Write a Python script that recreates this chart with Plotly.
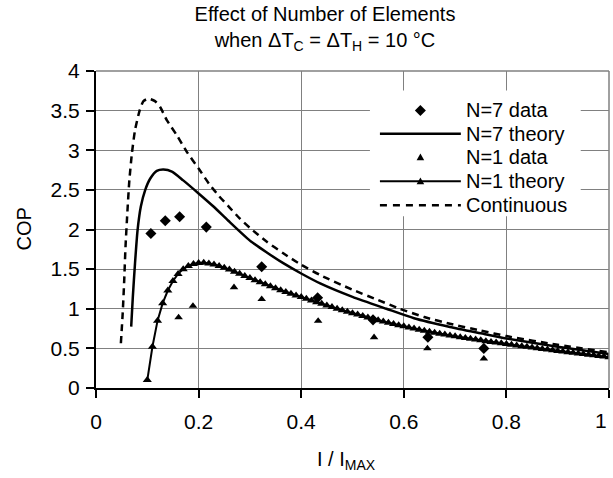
import plotly.graph_objects as go

# ---------------- data ----------------
n7_data_x = [0.107, 0.135, 0.163, 0.215, 0.323, 0.432, 0.540, 0.647, 0.756]
n7_data_y = [1.95, 2.11, 2.16, 2.03, 1.53, 1.14, 0.86, 0.64, 0.50]

n1_data_x = [0.161, 0.189, 0.269, 0.323, 0.433, 0.542, 0.646, 0.756]
n1_data_y = [0.89, 1.035, 1.27, 1.12, 0.846, 0.64, 0.50, 0.37]

n7_theory_x = [0.0686, 0.0718, 0.076, 0.081, 0.0874, 0.096, 0.1055, 0.1185, 0.1315,
               0.148, 0.170, 0.200, 0.229, 0.258, 0.300, 0.333, 0.365, 0.400, 0.437,
               0.500, 0.566, 0.620, 0.690, 0.750, 0.800, 0.900, 1.000]
n7_theory_y = [0.775, 1.15, 1.57, 1.99, 2.29, 2.50, 2.64, 2.74, 2.757,
               2.73, 2.62, 2.455, 2.29, 2.11, 1.86, 1.71, 1.575, 1.445, 1.32,
               1.15, 1.00, 0.88, 0.77, 0.69, 0.625, 0.52, 0.43]

cont_x = [0.0485, 0.052, 0.055, 0.0575, 0.061, 0.065, 0.070, 0.076, 0.085, 0.0925,
          0.102, 0.115, 0.125, 0.138, 0.1575, 0.177, 0.200, 0.220, 0.240, 0.260,
          0.280, 0.300, 0.333, 0.365, 0.400, 0.437, 0.500, 0.550, 0.592, 0.640,
          0.690, 0.750, 0.800, 0.900, 1.000]
cont_y = [0.565, 0.94, 1.36, 1.78, 2.20, 2.62, 2.96, 3.25, 3.50, 3.62,
          3.65, 3.62, 3.545, 3.38, 3.19, 2.98, 2.77, 2.58, 2.42, 2.28,
          2.14, 2.02, 1.845, 1.70, 1.555, 1.425, 1.24, 1.11, 1.00, 0.895,
          0.81, 0.725, 0.655, 0.545, 0.45]

n1_theory_x = [round(0.10 + 0.01 * i, 2) for i in range(91)]
n1_theory_y = [0.10, 0.52, 0.85, 1.07, 1.23, 1.35, 1.44, 1.50, 1.54, 1.565,
               1.577, 1.580, 1.572, 1.558, 1.540, 1.518, 1.494, 1.468, 1.441, 1.414,
               1.387, 1.360, 1.334, 1.308, 1.283, 1.258, 1.234, 1.211, 1.189, 1.168,
               1.148, 1.126, 1.104, 1.083, 1.062, 1.041, 1.021, 1.001, 0.982, 0.963,
               0.944, 0.926, 0.908, 0.890, 0.873, 0.856, 0.840, 0.824, 0.808, 0.793,
               0.778, 0.764, 0.750, 0.736, 0.723, 0.710, 0.698, 0.686, 0.674, 0.663,
               0.652, 0.641, 0.631, 0.621, 0.611, 0.601, 0.591, 0.582, 0.573, 0.564,
               0.555, 0.546, 0.537, 0.528, 0.519, 0.510, 0.502, 0.493, 0.485, 0.476,
               0.468, 0.460, 0.452, 0.444, 0.436, 0.428, 0.420, 0.412, 0.404, 0.396,
               0.388]

x_ticks = [0, 0.2, 0.4, 0.6, 0.8, 1]
x_tick_labels = ["0", "0.2", "0.4", "0.6", "0.8", "1"]
y_ticks = [0, 0.5, 1, 1.5, 2, 2.5, 3, 3.5, 4]
y_tick_labels = ["0", "0.5", "1", "1.5", "2", "2.5", "3", "3.5", "4"]

legend_labels = ["N=7 data", "N=7 theory", "N=1 data", "N=1 theory", "Continuous"]

# ---------------- layout geometry ----------------
W, H = 613, 478
L, R, T, B = 95.8, 609.3, 70.5, 388.2  # plot area in pixels
FONT = "Liberation Sans, Arial, sans-serif"


def pxx(xp):
    return (xp - L) / (R - L)


def pxy(yp):
    return (B - yp) / (B - T)


fig = go.Figure()

fig.add_trace(go.Scatter(x=cont_x, y=cont_y, mode="lines", name=legend_labels[4],
                         line=dict(color="black", width=2.5, dash="7px,5px", shape="spline", smoothing=0.6)))
fig.add_trace(go.Scatter(x=n7_theory_x, y=n7_theory_y, mode="lines", name=legend_labels[1],
                         line=dict(color="black", width=2.5, shape="spline", smoothing=0.6)))
fig.add_trace(go.Scatter(x=n1_theory_x, y=n1_theory_y, mode="lines+markers", name=legend_labels[3],
                         line=dict(color="black", width=2),
                         marker=dict(symbol="triangle-up", size=8, color="black")))
fig.add_trace(go.Scatter(x=n7_data_x, y=n7_data_y, mode="markers", name=legend_labels[0],
                         marker=dict(symbol="diamond", size=8.5, color="black")))
fig.add_trace(go.Scatter(x=n1_data_x, y=n1_data_y, mode="markers", name=legend_labels[2],
                         marker=dict(symbol="triangle-up", size=7.5, color="black")))

# ---------------- frame lines (top / right, gray like the grid) ----------------
shapes = [
    dict(type="line", xref="paper", yref="paper", layer="above", x0=0, x1=1, y0=1, y1=1,
         line=dict(color="#808080", width=1.5)),
    dict(type="line", xref="paper", yref="paper", layer="above", x0=1, x1=1, y0=0, y1=1,
         line=dict(color="#808080", width=1.5)),
]

# ---------------- manual legend ----------------
shapes.append(dict(type="rect", xref="paper", yref="paper", layer="above",
                   x0=pxx(370), x1=pxx(581), y0=pxy(216), y1=pxy(90),
                   fillcolor="white", line=dict(width=0)))
rows = [110, 133.5, 157, 181, 205]
sx0, sx1, scx = 380, 461, 420.5


def diamond_path(cx, cy, r):
    return (f"M {pxx(cx - r)} {pxy(cy)} L {pxx(cx)} {pxy(cy - r)} "
            f"L {pxx(cx + r)} {pxy(cy)} L {pxx(cx)} {pxy(cy + r)} Z")


def tri_path(cx, cy, r):
    return (f"M {pxx(cx - r)} {pxy(cy + r * 0.8)} L {pxx(cx + r)} {pxy(cy + r * 0.8)} "
            f"L {pxx(cx)} {pxy(cy - r)} Z")


shapes.append(dict(type="path", xref="paper", yref="paper", layer="above",
                   path=diamond_path(scx, rows[0], 5.5), fillcolor="black", line=dict(width=0)))
shapes.append(dict(type="line", xref="paper", yref="paper", layer="above",
                   x0=pxx(sx0), x1=pxx(sx1), y0=pxy(rows[1]), y1=pxy(rows[1]),
                   line=dict(color="black", width=2.5)))
shapes.append(dict(type="path", xref="paper", yref="paper", layer="above",
                   path=tri_path(scx, rows[2], 3.8), fillcolor="black", line=dict(width=0)))
shapes.append(dict(type="line", xref="paper", yref="paper", layer="above",
                   x0=pxx(sx0), x1=pxx(sx1), y0=pxy(rows[3]), y1=pxy(rows[3]),
                   line=dict(color="black", width=2)))
shapes.append(dict(type="path", xref="paper", yref="paper", layer="above",
                   path=tri_path(scx, rows[3], 3.8), fillcolor="black", line=dict(width=0)))
shapes.append(dict(type="line", xref="paper", yref="paper", layer="above",
                   x0=pxx(sx0), x1=pxx(sx1), y0=pxy(rows[4]), y1=pxy(rows[4]),
                   line=dict(color="black", width=2.5, dash="7px,6px")))

annotations = []
for lab, ry in zip(legend_labels, rows):
    annotations.append(dict(text=lab, xref="paper", yref="paper", x=pxx(464), y=pxy(ry),
                            xanchor="left", yanchor="middle", showarrow=False,
                            font=dict(family=FONT, size=20, color="black")))

# last x tick label: right-aligned at the axis end so it stays inside the picture
annotations.append(dict(text=x_tick_labels[-1], xref="x", yref="paper", x=x_ticks[-1], y=pxy(421),
                        xanchor="right", yanchor="middle", showarrow=False,
                        font=dict(family=FONT, size=21, color="black")))

# axis titles
annotations.append(dict(text="COP", xref="paper", yref="paper", x=pxx(24), y=pxy(229),
                        xanchor="center", yanchor="middle", textangle=-90, showarrow=False,
                        font=dict(family=FONT, size=20, color="black")))
annotations.append(dict(text="I / I<sub>MAX</sub>", xref="paper", yref="paper", x=pxx(347), y=pxy(461),
                        xanchor="center", yanchor="middle", showarrow=False,
                        font=dict(family=FONT, size=20, color="black")))

fig.update_layout(
    width=W, height=H,
    margin=dict(l=L, r=W - R, t=T, b=H - B, pad=0, autoexpand=False),
    paper_bgcolor="white", plot_bgcolor="white",
    showlegend=False,
    font=dict(family=FONT, size=20, color="black"),
    title=dict(text="Effect of Number of Elements<br>when ΔT<sub>C</sub> = ΔT<sub>H</sub> = 10 °C",
               xref="paper", x=pxx(325), xanchor="center",
               yref="container", y=1 - 21 / H, yanchor="middle",
               font=dict(family=FONT, size=20, color="black")),
    shapes=shapes,
    annotations=annotations,
)
fig.update_xaxes(range=[0, 1], tickvals=x_ticks, ticktext=x_tick_labels[:-1] + [""],
                 automargin=False,
                 showgrid=True, gridcolor="#808080", gridwidth=1,
                 zeroline=False, showline=True, linecolor="black", linewidth=2,
                 ticks="outside", ticklen=8, tickwidth=1.5, tickcolor="black",
                 ticklabelstandoff=6, tickfont=dict(family=FONT, size=21, color="black"))
fig.update_yaxes(range=[0, 4], tickvals=y_ticks, ticktext=y_tick_labels,
                 automargin=False,
                 showgrid=True, gridcolor="#808080", gridwidth=1,
                 zeroline=False, showline=True, linecolor="black", linewidth=2,
                 ticks="outside", ticklen=8, tickwidth=1.5, tickcolor="black",
                 ticklabelstandoff=2, tickfont=dict(family=FONT, size=21, color="black"))

fig.write_html("out.html")
